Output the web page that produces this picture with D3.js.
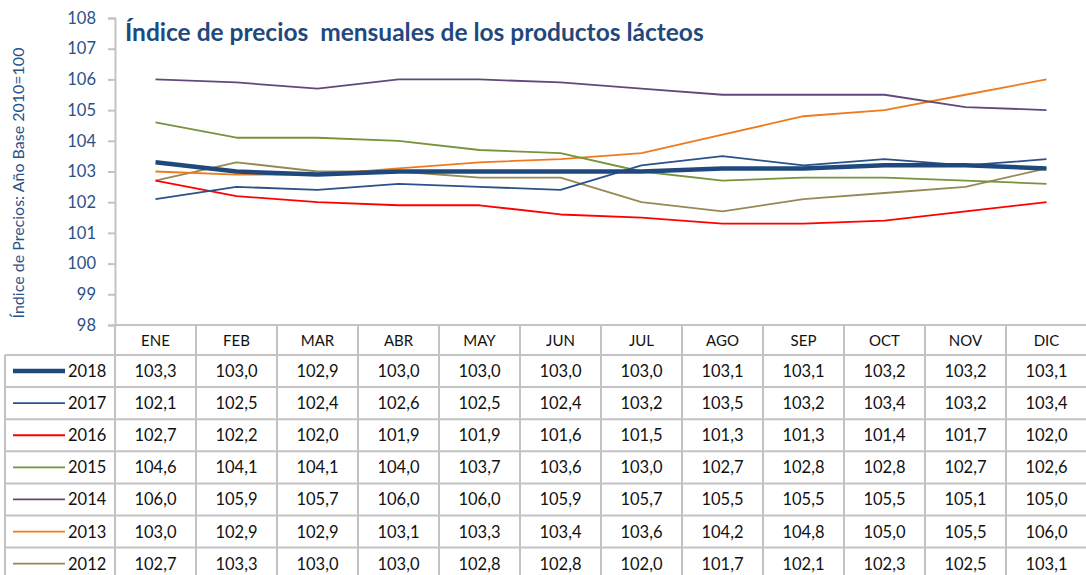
<!DOCTYPE html>
<html>
<head>
<meta charset="utf-8">
<script src="https://cdn.jsdelivr.net/npm/d3@7"></script>
<style>
  body { margin: 0; background: #fff; }
  svg { display: block; font-family: Lato, "Open Sans", sans-serif; }
</style>
</head>
<body>
<svg id="chart" width="1086" height="575"></svg>
<script>
const months = ["ENE", "FEB", "MAR", "ABR", "MAY", "JUN", "JUL", "AGO", "SEP", "OCT", "NOV", "DIC"];
const years = ["2018", "2017", "2016", "2015", "2014", "2013", "2012"];
const v2018 = [103.3, 103.0, 102.9, 103.0, 103.0, 103.0, 103.0, 103.1, 103.1, 103.2, 103.2, 103.1];
const v2017 = [102.1, 102.5, 102.4, 102.6, 102.5, 102.4, 103.2, 103.5, 103.2, 103.4, 103.2, 103.4];
const v2016 = [102.7, 102.2, 102.0, 101.9, 101.9, 101.6, 101.5, 101.3, 101.3, 101.4, 101.7, 102.0];
const v2015 = [104.6, 104.1, 104.1, 104.0, 103.7, 103.6, 103.0, 102.7, 102.8, 102.8, 102.7, 102.6];
const v2014 = [106.0, 105.9, 105.7, 106.0, 106.0, 105.9, 105.7, 105.5, 105.5, 105.5, 105.1, 105.0];
const v2013 = [103.0, 102.9, 102.9, 103.1, 103.3, 103.4, 103.6, 104.2, 104.8, 105.0, 105.5, 106.0];
const v2012 = [102.7, 103.3, 103.0, 103.0, 102.8, 102.8, 102.0, 101.7, 102.1, 102.3, 102.5, 103.1];
const yTicks = [98, 99, 100, 101, 102, 103, 104, 105, 106, 107, 108];

const seriesValues = [v2018, v2017, v2016, v2015, v2014, v2013, v2012];
const colors = ["#1F497D", "#2A5288", "#FF0000", "#77933C", "#604A7B", "#EE7A1E", "#948A54"];
const widths = [4.5, 1.8, 1.8, 1.8, 1.8, 1.8, 1.8];

const series = years.map((y, i) => ({ year: y, values: seriesValues[i], color: colors[i], width: widths[i] }));

const svg = d3.select("#chart");
const gridColor = "#c3c3c3";
const plotLeft = 115, plotRight = 1087, plotTop = 18, plotBottom = 325;
const legendLeft = 5;
const headerH = 30, rowH = 32.1;

const x = d3.scaleBand().domain(months).range([plotLeft, plotRight]);
const y = d3.scaleLinear().domain([98, 108]).range([plotBottom, plotTop]);

// eje y
const yAxis = svg.append("g")
  .attr("transform", `translate(${plotLeft},0)`)
  .call(d3.axisLeft(y).tickValues(yTicks).tickSize(7).tickPadding(12).tickFormat(d3.format("d")));
yAxis.select(".domain").attr("stroke", gridColor).attr("stroke-width", 2);
yAxis.selectAll(".tick line").attr("stroke", gridColor).attr("stroke-width", 2);
yAxis.selectAll(".tick text")
  .attr("fill", "#2A5288")
  .attr("font-size", 16.5)
  .attr("font-family", "Lato, sans-serif");

svg.append("text")
  .attr("transform", `translate(24,183) rotate(-90)`)
  .attr("text-anchor", "middle")
  .attr("fill", "#2A5288")
  .attr("font-size", 16)
  .text("Índice de Precios: Año Base 2010=100");

svg.append("text")
  .attr("x", 125)
  .attr("y", 41)
  .attr("fill", "#1F497D")
  .attr("font-size", 24.5)
  .attr("font-weight", "bold")
  .attr("xml:space", "preserve")
  .text("Índice de precios  mensuales de los productos lácteos");

// lineas
const line = d3.line()
  .x((d, i) => x(months[i]) + x.bandwidth() / 2)
  .y(d => y(d));

svg.append("g")
  .selectAll("path")
  .data(series.slice().reverse())
  .join("path")
  .attr("d", d => line(d.values))
  .attr("fill", "none")
  .attr("stroke", d => d.color)
  .attr("stroke-width", d => d.width)
  .attr("stroke-linejoin", "round");

// tabla de datos
const rowY = i => plotBottom + headerH + i * rowH;
const grid = svg.append("g").attr("stroke", gridColor).attr("stroke-width", 2);

grid.append("line").attr("x1", plotLeft).attr("x2", plotRight).attr("y1", plotBottom).attr("y2", plotBottom);
d3.range(years.length + 1).forEach(i => {
  grid.append("line").attr("x1", legendLeft).attr("x2", plotRight).attr("y1", rowY(i)).attr("y2", rowY(i));
});
months.forEach(m => {
  grid.append("line").attr("x1", x(m)).attr("x2", x(m)).attr("y1", plotBottom).attr("y2", 575);
});
grid.append("line").attr("x1", legendLeft).attr("x2", legendLeft).attr("y1", rowY(0)).attr("y2", 575);

svg.append("g")
  .selectAll("text")
  .data(months)
  .join("text")
  .attr("x", d => x(d) + x.bandwidth() / 2)
  .attr("y", plotBottom + headerH / 2 + 5.5)
  .attr("text-anchor", "middle")
  .attr("font-size", 15)
  .attr("fill", "#111")
  .text(d => d);

const fmt = v => d3.format(".1f")(v).replace(".", ",");

const rows = svg.append("g")
  .selectAll("g")
  .data(series)
  .join("g")
  .attr("transform", (d, i) => `translate(0,${rowY(i)})`);

rows.append("line")
  .attr("x1", 13).attr("x2", 65)
  .attr("y1", rowH / 2).attr("y2", rowH / 2)
  .attr("stroke", d => d.color)
  .attr("stroke-width", d => d.width);

rows.append("text")
  .attr("x", 68)
  .attr("y", rowH / 2 + 6)
  .attr("font-size", 16.5)
  .attr("fill", "#111")
  .text(d => d.year);

rows.selectAll(".val")
  .data(d => d.values)
  .join("text")
  .attr("class", "val")
  .attr("x", (d, i) => x(months[i]) + x.bandwidth() / 2)
  .attr("y", rowH / 2 + 6)
  .attr("text-anchor", "middle")
  .attr("font-size", 16.5)
  .attr("fill", "#111")
  .text(d => fmt(d));
</script>
</body>
</html>
